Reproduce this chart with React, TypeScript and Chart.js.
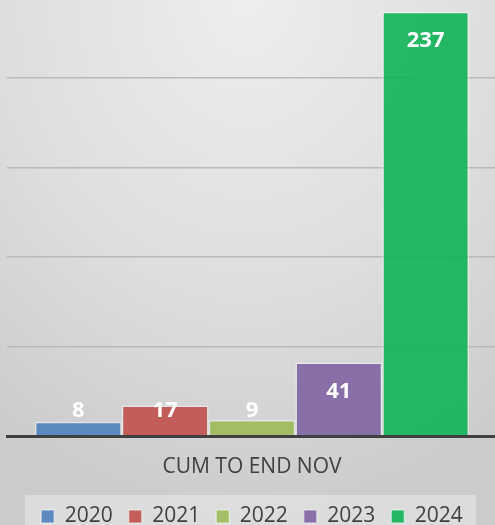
import React, { useEffect, useRef } from "react";
import { Chart, registerables } from "chart.js";

Chart.register(...registerables);

// ---- data ----
const categories = ["CUM TO END NOV"];
const seriesLabels = ["2020", "2021", "2022", "2023", "2024"];
const seriesValues = [8, 17, 9, 41, 237];
const seriesColors = [
  "rgba(79,129,189,0.9)",
  "rgba(192,80,77,0.9)",
  "rgba(155,187,89,0.9)",
  "rgba(128,100,162,0.9)",
  "rgba(15,178,87,0.9)",
];
const yMin = 0;
const yMax = 250;
const yStep = 50;

const FONT = "'Open Sans', 'Noto Sans', sans-serif";

const legendBgPlugin = {
  id: "legendBg",
  beforeDraw(chart: any) {
    const lg = chart.legend;
    if (!lg || !lg.legendHitBoxes || !lg.legendHitBoxes.length) return;
    const boxes = lg.legendHitBoxes;
    const first = boxes[0];
    const last = boxes[boxes.length - 1];
    const ctx = chart.ctx;
    ctx.save();
    ctx.fillStyle = "rgba(235,235,235,0.55)";
    const x0 = first.left - 16;
    const x1 = last.left + last.width + 13;
    const y0 = first.top - 11;
    ctx.fillRect(x0, y0, x1 - x0, chart.height - y0);
    ctx.restore();
  },
};

const dataLabelPlugin = {
  id: "dataLabels",
  afterDatasetsDraw(chart: any) {
    const ctx = chart.ctx;
    ctx.save();
    ctx.fillStyle = "#ffffff";
    ctx.font = `bold 22px ${FONT}`;
    ctx.textAlign = "center";
    ctx.textBaseline = "middle";
    chart.data.datasets.forEach((ds: any, i: number) => {
      const meta = chart.getDatasetMeta(i);
      meta.data.forEach((bar: any, j: number) => {
        const p = bar.getProps(["x", "y", "base"], true);
        const y = Math.min(p.y + 29, p.base - 25);
        ctx.fillText(String(ds.data[j]), p.x, y);
      });
    });
    ctx.restore();
  },
};

export default function App() {
  const ref = useRef<HTMLCanvasElement>(null);

  useEffect(() => {
    if (!ref.current) return;
    const chart = new Chart(ref.current, {
      type: "bar",
      data: {
        labels: categories,
        datasets: seriesLabels.map((label, i) => ({
          label,
          data: [seriesValues[i]],
          backgroundColor: seriesColors[i],
          borderColor: "rgba(255,255,255,0.45)",
          borderWidth: 1.5,
          categoryPercentage: 0.886,
          barPercentage: 1,
        })),
      },
      options: {
        responsive: false,
        animation: false,
        devicePixelRatio: 1,
        layout: { padding: { left: 7, right: 0, top: 18.5, bottom: 0 } },
        plugins: {
          legend: {
            position: "bottom",
            labels: {
              font: { family: FONT, size: 21 },
              color: "#404040",
              boxWidth: 13,
              boxHeight: 13,
              padding: 16,
            },
          },
          tooltip: { enabled: false },
          title: { display: false },
        },
        scales: {
          x: {
            grid: { display: false },
            border: { display: true, color: "#404040", width: 3, z: 1 },
            ticks: {
              font: { family: FONT, size: 21 },
              color: "#404040",
              padding: 10,
            },
            afterFit: (axis: any) => {
              axis.height = 54;
            },
          },
          y: {
            min: yMin,
            max: yMax,
            ticks: { display: false, stepSize: yStep },
            grid: { color: "#b9b9b9", lineWidth: 1.5, drawTicks: false },
            border: { display: false },
            afterFit: (axis: any) => {
              axis.width = 0;
            },
          },
        },
      },
      plugins: [legendBgPlugin, dataLabelPlugin],
    } as any);
    return () => chart.destroy();
  }, []);

  return (
    <div
      style={{
        position: "fixed",
        left: 0,
        top: 0,
        width: 495,
        height: 525,
        overflow: "hidden",
        background:
          "radial-gradient(ellipse 90% 100% at 50% 0%, #eeeeee 0%, #dedede 55%, #cbcbcb 100%)",
      }}
    >
      <div style={{ position: "absolute", left: 0, top: -30, width: 497, height: 567 }}>
        <canvas ref={ref} width={497} height={567} style={{ display: "block" }} />
      </div>
    </div>
  );
}
